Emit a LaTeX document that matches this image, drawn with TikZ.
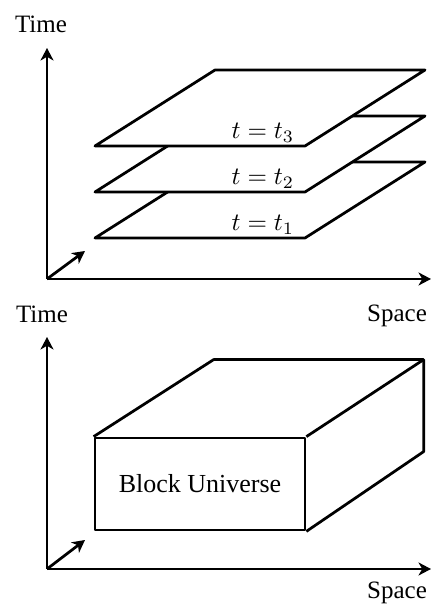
\documentclass[tikz,border=0pt]{standalone}
\usepackage{fontspec}
\setmainfont{Liberation Serif}
\usetikzlibrary{arrows.meta,positioning}

\begin{document}
\begin{tikzpicture}[x=0.4pt, y=0.4pt,
  axis/.style={-{Stealth[length=5pt, width=5.2pt, inset=1.5pt]}, line width=1.1pt},
  face/.style={draw, line width=1.1pt, fill=white, line join=round},
  edge/.style={line width=1.1pt, line join=round},
  lbl/.style={anchor=base east},
  ttl/.style={anchor=base}]
\useasboundingbox (0,0) rectangle (432,605);

% upper panel: time slices
\coordinate (o1) at (47,326);
\coordinate (tt1) at (47,557);
\coordinate (ts1) at (431,326);
\coordinate (td1) at (85,354);
\node[ttl] (time1) at (41,572) {Time};
\node[ttl] (space1) at (397,283) {Space};
\draw[axis] (o1) -- (tt1);
\draw[axis] (o1) -- (ts1);
\draw[axis] (o1) -- (td1);
\foreach \i/\y in {1/367, 2/413, 3/459} {
  \draw[face] (95,\y) coordinate (s\i) -- ++(210,0) coordinate (r\i)
    -- ++(120,76) -- ++(-210,0) -- cycle;
  \node[lbl] (l\i) at ([shift={(-2,7)}]r\i) {$t=t_\i$};
}

% lower panel: block universe
\coordinate (o2) at (47,36);
\coordinate (tt2) at (47,268);
\coordinate (ts2) at (431,36);
\coordinate (td2) at (85,65);
\node[ttl] (time2) at (42,282) {Time};
\node[ttl] (space2) at (397,6) {Space};
\draw[axis] (o2) -- (tt2);
\draw[axis] (o2) -- (ts2);
\draw[axis] (o2) -- (td2);
\node[face, minimum width=84pt, minimum height=36.8pt, inner sep=0pt,
      font=\fontsize{10.4}{12}\selectfont] (block) at (200,121) {Block Universe};
\draw[edge] (block.north west) -- ++(120,77) coordinate (bl) -- ++(210,0) coordinate (br)
  -- ++(0,-92) -- (block.south east);
\draw[edge] (block.north east) -- (br);
\end{tikzpicture}
\end{document}
